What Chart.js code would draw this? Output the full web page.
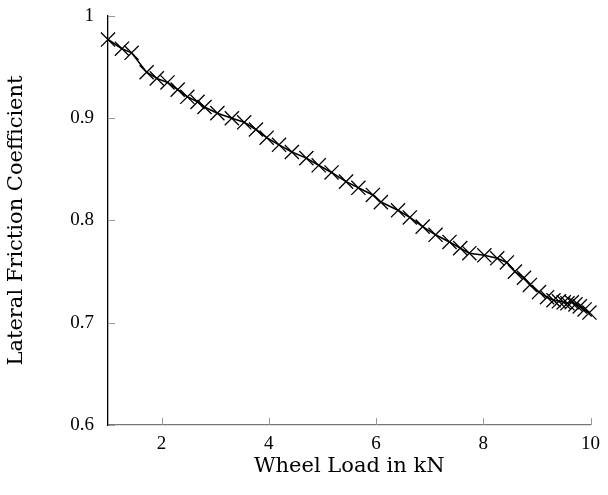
<!DOCTYPE html>
<html>
<head>
<meta charset="utf-8">
<script src="https://cdn.jsdelivr.net/npm/chart.js@4/dist/chart.umd.min.js"></script>
<style>
  body { margin: 0; background: #fff; }
  #wrap { width: 608px; height: 495px; }
</style>
</head>
<body>
<div id="wrap"><canvas id="myChart" width="608" height="495"></canvas></div>
<script>
// wheel load (kN) and lateral friction coefficient
const wheelLoad = [1.00, 1.26, 1.44, 1.72, 1.91, 2.11, 2.30, 2.48, 2.67, 2.80,
  3.04, 3.31, 3.54, 3.76, 3.96, 4.19, 4.43, 4.70, 4.93, 5.17,
  5.44, 5.67, 5.94, 6.09, 6.41, 6.63, 6.87, 7.11, 7.37, 7.57,
  7.74, 8.02, 8.26, 8.44, 8.59, 8.76, 8.87, 9.04, 9.19, 9.31,
  9.41, 9.50, 9.57, 9.65, 9.72, 9.80, 9.89, 9.98]
const friction = [0.977, 0.968, 0.964, 0.945, 0.939, 0.935, 0.928, 0.921, 0.916, 0.911,
  0.905, 0.900, 0.896, 0.889, 0.881, 0.874, 0.867, 0.861, 0.854, 0.847,
  0.838, 0.832, 0.825, 0.818, 0.810, 0.803, 0.794, 0.786, 0.779, 0.773,
  0.768, 0.766, 0.763, 0.759, 0.750, 0.744, 0.737, 0.730, 0.725, 0.722,
  0.721, 0.720, 0.719, 0.720, 0.718, 0.716, 0.713, 0.710]

const xTicks = [2, 4, 6, 8, 10]
const yTicks = [0.6, 0.7, 0.8, 0.9, 1]

const tickFont = "'Liberation Serif', serif"
const titleFont = "'DejaVu Serif', serif"

// ticks in this plot point into the plot area
const innerTicks = {
    id: "innerTicks",
    afterDraw(chart) {
        const ctx = chart.ctx
        const area = chart.chartArea
        const x = chart.scales.x
        const y = chart.scales.y
        ctx.save()
        ctx.strokeStyle = "#999"
        ctx.lineWidth = 1
        ctx.beginPath()
        xTicks.forEach(v => {
            const px = Math.round(x.getPixelForValue(v)) + 0.5
            ctx.moveTo(px, area.bottom)
            ctx.lineTo(px, area.bottom - 7)
        })
        yTicks.forEach(v => {
            const py = Math.round(y.getPixelForValue(v)) + 0.5
            ctx.moveTo(area.left, py)
            ctx.lineTo(area.left + 7, py)
        })
        ctx.stroke()
        ctx.restore()
    }
}

var ctx = document.getElementById('myChart').getContext('2d');
var chart = new Chart(ctx, {
    type: 'line',
    data: {
        datasets: [{
            data: wheelLoad.map((v, i) => ({ x: v, y: friction[i] })),
            borderColor: '#000',
            borderWidth: 1.6,
            pointStyle: 'crossRot',
            pointRadius: 10,
            pointBorderWidth: 1.3,
            pointBorderColor: '#000',
            pointHoverRadius: 10,
            fill: false,
            tension: 0,
            clip: false
        }]
    },
    options: {
        responsive: false,
        animation: false,
        layout: { autoPadding: false, padding: { left: 0, top: 16, right: 14, bottom: 12 } },
        plugins: {
            legend: { display: false },
            tooltip: { enabled: false }
        },
        scales: {
            x: {
                type: 'linear',
                min: 1,
                max: 10,
                afterBuildTicks: s => { s.ticks = xTicks.map(v => ({ value: v })) },
                afterFit: s => { s.height = 58 },
                grid: { drawOnChartArea: false, drawTicks: false },
                border: { color: '#777', width: 1.3 },
                ticks: { color: '#000', padding: 8, font: { family: tickFont, size: 19 } },
                title: {
                    display: true,
                    text: 'Wheel Load in kN',
                    color: '#000',
                    padding: { top: 10 },
                    font: { family: titleFont, size: 21 }
                }
            },
            y: {
                min: 0.6,
                max: 1,
                afterBuildTicks: s => { s.ticks = yTicks.map(v => ({ value: v })) },
                // the tick padding would otherwise push the plot top down
                afterFit: s => { s.width = 108; s.paddingTop = 0; s.paddingBottom = 0 },
                grid: { drawOnChartArea: false, drawTicks: false },
                border: { color: '#000', width: 1.3 },
                ticks: {
                    color: '#000',
                    padding: 14,
                    font: { family: tickFont, size: 19 },
                    callback: v => String(v)
                },
                title: {
                    display: true,
                    text: 'Lateral Friction Coefficient',
                    color: '#000',
                    padding: { bottom: 12 },
                    font: { family: titleFont, size: 21 }
                }
            }
        }
    },
    plugins: [innerTicks]
});
</script>
</body>
</html>
